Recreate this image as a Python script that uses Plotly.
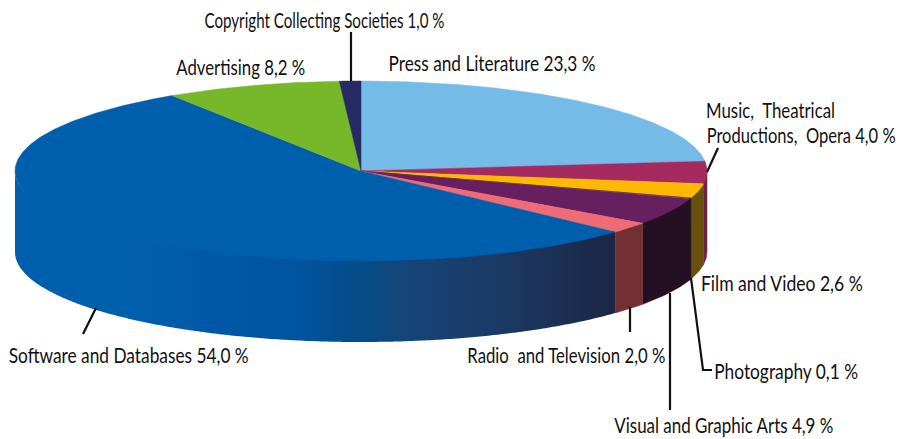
import json

import numpy as np
import plotly.graph_objects as go

# order: clockwise from 12 o'clock
categories = ["Press and Literature", "Music, Theatrical Productions, Opera", "Film and Video",
              "Photography", "Visual and Graphic Arts", "Radio and Television",
              "Software and Databases", "Advertising", "Copyright Collecting Societies"]
shares = [23.3, 4.0, 2.6, 0.1, 4.9, 2.0, 54.0, 8.2, 1.0]

top_colors = ["#75BBE8", "#A52A5F", "#FDB900", "#3A1A3A", "#661F5F", "#EF6C77", "#005FAD", "#76B82A", "#262B66"]
side_colors = ["#4A7A98", "#6E2345", "#69500F", "#20101F", "#240F23", "#733032", "#005FAD", "#4E7A1C", "#191C44"]

CX, CY = 361, 171
RX, RY = 346, 90
DEPTH = 81


def top_slice(a0, a1):
    t = np.radians(np.linspace(a0, a1, max(int(a1 - a0) * 2, 4)))
    x = np.r_[CX, CX + RX * np.sin(t), CX]
    y = np.r_[CY, CY - RY * np.cos(t), CY]
    return x, y


def side_wall(a0, a1):
    # only the front half of the rim can be seen
    a0, a1 = max(a0, 90), min(a1, 270)
    if a1 <= a0:
        return None
    t = np.radians(np.linspace(a0, a1, max(int(a1 - a0) * 2, 4)))
    x = CX + RX * np.sin(t)
    y = CY - RY * np.cos(t)
    # upper edge tucked under the top face so no seam shows
    upper = CY + (y - CY) * 0.97
    return np.r_[x, x[::-1], x[0]], np.r_[upper, y[::-1] + DEPTH, upper[0]]


fig = go.Figure()

edges = np.r_[0, np.cumsum(shares)] / sum(shares) * 360

for i in range(len(shares)):
    wall = side_wall(edges[i], edges[i + 1])
    if wall is None:
        continue
    if categories[i] == "Software and Databases":
        fig.add_trace(go.Scatter(
            x=wall[0], y=wall[1], mode="none", fill="toself",
            fillgradient=dict(type="horizontal", colorscale=[
                [0.0, "#005FAD"], [0.19, "#005FAD"], [0.32, "#0059A8"], [0.47, "#00549F"],
                [0.59, "#064A85"], [0.64, "#14457A"], [0.80, "#1C3A66"], [1.0, "#1B2644"]]),
            hoverinfo="skip"))
    else:
        fig.add_trace(go.Scatter(
            x=wall[0], y=wall[1], mode="lines", fill="toself", fillcolor=side_colors[i],
            line=dict(color=side_colors[i], width=0.5), hoverinfo="skip"))

for i in range(len(shares)):
    x, y = top_slice(edges[i], edges[i + 1])
    fig.add_trace(go.Scatter(
        x=x, y=y, mode="lines", fill="toself", fillcolor=top_colors[i],
        line=dict(color=top_colors[i], width=0.5), name=categories[i], hoverinfo="name"))

# leader lines
leaders = [
    ([351, 351], [32, 81]),
    ([718, 707], [148, 172]),
    ([96, 83], [308, 334]),
    ([630, 630], [307, 332]),
    ([670, 670], [293, 410]),
    ([691, 703, 712], [278, 370, 370]),
]
for lx, ly in leaders:
    fig.add_trace(go.Scatter(x=lx, y=ly, mode="lines", line=dict(color="#111111", width=2.2), hoverinfo="skip"))

# left, right, middle y, text
labels = [
    (204, 444, 19, "Copyright Collecting Societies 1,0 %"),
    (176, 305, 66, "Advertising 8,2 %"),
    (388, 595, 62, "Press and Literature 23,3 %"),
    (706, 835, 109, "Music,  Theatrical"),
    (706, 895, 134, "Productions,  Opera 4,0 %"),
    (701, 863, 282, "Film and Video 2,6 %"),
    (714, 858, 370, "Photography 0,1 %"),
    (614, 833, 424, "Visual and Graphic Arts 4,9 %"),
    (467, 665, 354, "Radio  and Television 2,0 %"),
    (8, 248, 354, "Software and Databases 54,0 %"),
]
for x0, x1, ly, text in labels:
    fig.add_annotation(x=(x0 + x1) / 2, y=ly, text=text, showarrow=False, xanchor="center", yanchor="middle",
                       font=dict(color="#111111", size=21))

fig.update_xaxes(range=[0, 899], visible=False, fixedrange=True)
fig.update_yaxes(range=[439, 0], visible=False, fixedrange=True)
fig.update_layout(
    width=899, height=439,
    margin=dict(l=0, r=0, t=0, b=0),
    paper_bgcolor="white",
    plot_bgcolor="white",
    font=dict(family="Lato, sans-serif"),
    showlegend=False,
)

# body margin would shift the figure; no condensed font here, so squeeze the labels to width
widths = json.dumps([x1 - x0 for x0, x1, _, _ in labels])
post_js = f"""
document.body.style.margin = '0';
document.documentElement.style.overflow = 'hidden';
var widths = {widths};
document.querySelectorAll('text.annotation-text').forEach(function (el, i) {{
    el.setAttribute('textLength', widths[i]);
    el.setAttribute('lengthAdjust', 'spacingAndGlyphs');
}});
"""
fig.write_html("out.html", config=dict(displayModeBar=False), post_script=post_js)
